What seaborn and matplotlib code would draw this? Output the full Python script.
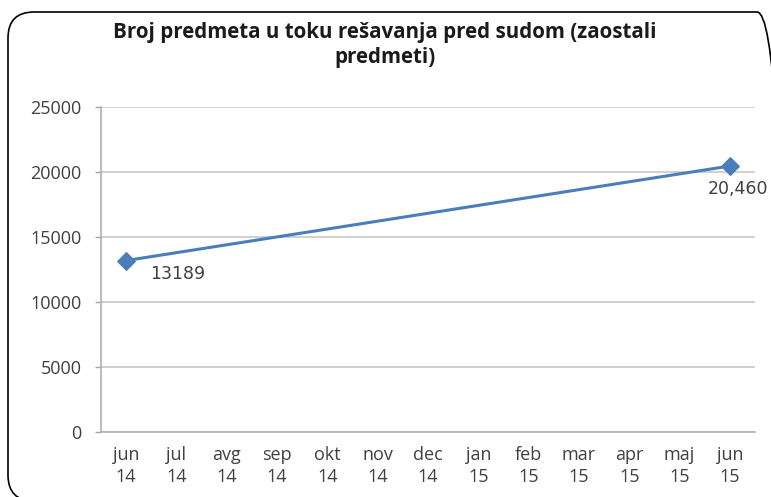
import matplotlib
matplotlib.use("Agg")
import matplotlib.pyplot as plt
import matplotlib.transforms as mtransforms
import seaborn as sns
import pandas as pd
from matplotlib.patches import FancyBboxPatch

months = ["jun\n14", "jul\n14", "avg\n14", "sep\n14", "okt\n14", "nov\n14", "dec\n14",
          "jan\n15", "feb\n15", "mar\n15", "apr\n15", "maj\n15", "jun\n15"]
point_idx = [0, 12]
values = [13189, 20460]
value_labels = ["13189", "20,460"]
title = "Broj predmeta u toku rešavanja pred sudom (zaostali\npredmeti)"

sns.set_theme(style="white")
plt.rcParams["font.family"] = ["Open Sans", "DejaVu Sans"]

W, H = 771, 497
fig = plt.figure(figsize=(W / 100, H / 100), dpi=100)
ax = fig.add_axes([101 / W, 65 / H, 654 / W, 325 / H])

df = pd.DataFrame({"x": point_idx, "y": values})
sns.lineplot(data=df, x="x", y="y", ax=ax, color="#4A7EBB", linewidth=2.2,
             marker="D", markersize=9, markeredgecolor="#4A7EBB")

ax.set_xlim(-0.5, 12.5)
ax.set_ylim(0, 25000)
ax.set_yticks(range(0, 25001, 5000))
ax.set_yticklabels([str(v) for v in range(0, 25001, 5000)], fontsize=13, color="#404040")
ax.set_xticks(range(len(months)))
ax.set_xticklabels(months, fontsize=13, color="#404040", linespacing=1.3)
ax.set_xticks([i - 0.5 for i in range(len(months) + 1)], minor=True)
ax.tick_params(axis="x", which="major", length=0, pad=10)
ax.tick_params(axis="x", which="minor", length=5, color="#A6A6A6", width=1)
ax.tick_params(axis="y", length=4, color="#A6A6A6", width=1, pad=10, left=True)
ax.set_xlabel("")
ax.set_ylabel("")
ax.grid(axis="y", color="#C8C8C8", linewidth=1.2)
ax.grid(axis="x", visible=False)
for s in ["top", "right"]:
    ax.spines[s].set_visible(False)
for s in ["left", "bottom"]:
    ax.spines[s].set_color("#B0B0B0")
    ax.spines[s].set_linewidth(1.2)

ax.annotate(value_labels[0], (point_idx[0], values[0]), xytext=(17, -9.5),
            textcoords="offset points", fontsize=12.5, color="#404040",
            family="DejaVu Sans", ha="left", va="center")
ax.annotate(value_labels[1], (point_idx[1], values[1]), xytext=(-16, -16.5),
            textcoords="offset points", fontsize=12.5, color="#404040",
            family="DejaVu Sans", ha="left", va="center", annotation_clip=False)

fig.text(385 / W, 1 - 45 / H, title, ha="center", va="center", fontsize=14.8,
         fontweight="bold", color="#1a1a1a", linespacing=1.2)

border = FancyBboxPatch((8, -4), 775, H - 12 + 4,
                        boxstyle="round,pad=0,rounding_size=26",
                        transform=mtransforms.IdentityTransform(), fill=False,
                        edgecolor="black", linewidth=1.2, clip_on=False)
fig.patches.append(border)

fig.savefig("out.png", dpi=100)
